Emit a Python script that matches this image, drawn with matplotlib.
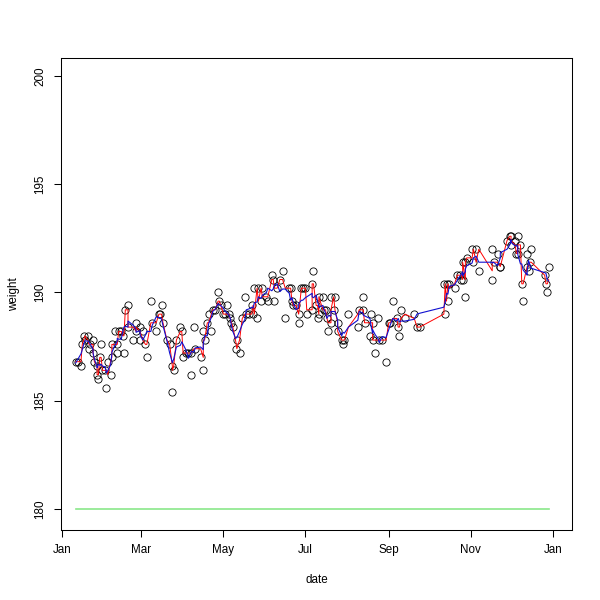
import datetime as dt
import matplotlib
matplotlib.use("Agg")
import matplotlib.pyplot as plt
import matplotlib.dates as mdates
import pandas as pd

# day offsets from 1 Jan 2013 and weights
days = [10, 12, 14, 15, 16, 17, 19, 20, 21, 23, 23, 24, 26, 26, 27, 28, 29, 30, 32, 33,
        34, 36, 37, 37, 39, 41, 41, 42, 44, 45, 46, 47, 49, 49, 53, 55, 55, 58, 58, 60,
        62, 63, 66, 67, 70, 72, 73, 74, 75, 78, 80, 82, 82, 83, 85, 88, 89, 90, 92, 94,
        96, 96, 98, 99, 103, 105, 105, 106, 108, 109, 111, 112, 114, 116, 117, 118, 120, 121, 123, 124,
        125, 126, 127, 129, 130, 132, 134, 136, 137, 139, 141, 142, 143, 145, 146, 148, 149, 152, 153, 156,
        157, 158, 160, 162, 164, 166, 169, 170, 171, 172, 174, 176, 176, 178, 179, 181, 182, 186, 186, 187,
        189, 190, 191, 191, 194, 195, 196, 197, 198, 200, 200, 202, 203, 205, 205, 208, 209, 210, 213, 220,
        221, 224, 224, 225, 229, 230, 231, 231, 233, 235, 236, 238, 241, 243, 244, 246, 249, 250, 251, 252,
        255, 262, 264, 266, 284, 285, 286, 287, 288, 292, 294, 296, 297, 298, 298, 300, 300, 301, 305, 306,
        308, 310, 320, 320, 321, 324, 326, 326, 331, 333, 334, 334, 337, 338, 339, 339, 341, 342, 343, 346,
        346, 347, 348, 349, 359, 360, 361, 362]
weights = [186.8, 186.8, 186.6, 187.6, 188.0, 187.8, 188.0, 187.4, 187.6, 187.8, 187.2, 186.8, 186.6, 186.2, 186.0, 187.0, 187.6, 186.4, 186.4, 185.6,
           186.8, 186.2, 187.0, 187.6, 188.2, 187.2, 187.6, 188.2, 188.2, 188.0, 187.2, 189.2, 189.4, 188.4, 187.8, 188.6, 188.2, 188.4, 187.8, 188.2,
           187.6, 187.0, 189.6, 188.6, 188.2, 189.0, 189.0, 189.4, 188.6, 187.8, 187.6, 185.4, 186.6, 186.4, 187.8, 188.4, 188.2, 187.0, 187.2, 187.2,
           187.2, 186.2, 188.4, 187.4, 187.0, 188.2, 186.4, 187.8, 188.6, 189.0, 188.2, 189.2, 189.2, 190.0, 189.6, 189.4, 189.0, 189.0, 189.4, 189.0,
           188.8, 188.6, 188.4, 187.4, 187.8, 187.2, 188.8, 189.8, 189.0, 189.0, 189.4, 189.0, 190.2, 188.8, 190.2, 189.6, 190.2, 189.8, 189.6, 190.8,
           190.6, 189.6, 190.2, 190.6, 191.0, 188.8, 190.2, 190.2, 189.6, 189.4, 189.4, 189.0, 188.6, 190.2, 190.2, 190.2, 189.0, 189.2, 190.4, 191.0,
           189.4, 188.8, 189.8, 189.0, 189.8, 189.2, 189.2, 188.8, 188.2, 188.6, 189.8, 189.2, 189.8, 188.2, 188.6, 187.8, 187.6, 187.8, 189.0, 188.4,
           189.2, 189.2, 189.8, 188.6, 188.0, 189.0, 188.6, 187.8, 187.2, 188.8, 187.8, 187.8, 186.8, 188.6, 188.6, 189.6, 188.8, 188.4, 188.0, 189.2,
           188.8, 189.0, 188.4, 188.4, 190.4, 189.0, 190.4, 189.6, 190.4, 190.2, 190.8, 190.8, 190.6, 191.4, 190.6, 191.4, 189.8, 191.6, 192.0, 191.4,
           192.0, 191.0, 192.0, 190.6, 191.4, 191.8, 191.2, 191.2, 192.4, 192.6, 192.6, 192.2, 192.4, 191.8, 191.8, 192.6, 192.2, 190.4, 189.6, 191.8,
           191.2, 191.0, 191.4, 192.0, 190.8, 190.4, 190.0, 191.2]
goal = 180

base = dt.datetime(2013, 1, 1)
dates = [base + dt.timedelta(days=d) for d in days]
s = pd.Series(weights, index=pd.DatetimeIndex(dates))
red = s.rolling(3, center=True, min_periods=1).median()
blue = s.rolling(5, center=True, min_periods=1).mean()

plt.rcParams['font.family'] = ['Liberation Sans', 'DejaVu Sans']
fig = plt.figure(figsize=(6, 6), dpi=100)
ax = fig.add_axes([0.102, 0.117, 0.851, 0.786])

ax.plot(s.index, s.values, 'o', mfc='none', mec='black', ms=5.2, mew=0.6)
ax.plot(red.index, red.values, color='red', lw=0.7)
ax.plot(blue.index, blue.values, color='#1010d0', lw=0.8)
ax.plot([dates[0], dates[-1]], [goal, goal], color='#8ae88a', lw=1.2)

ax.set_xlim(base + dt.timedelta(days=-0.7), base + dt.timedelta(days=379.2))
ax.set_ylim(179.03, 200.83)
ax.xaxis.set_major_locator(mdates.MonthLocator(bymonth=[1, 3, 5, 7, 9, 11]))
ax.xaxis.set_major_formatter(mdates.DateFormatter('%b'))
ax.set_yticks([180, 185, 190, 195, 200])
for lab in ax.get_yticklabels():
    lab.set_rotation(90)
    lab.set_va('center')
ax.tick_params(direction='out', length=5, width=0.75, labelsize=8.4, pad=5)
ax.tick_params(axis='y', pad=6)
for sp in ax.spines.values():
    sp.set_linewidth(0.75)
ax.set_xlabel('date', fontsize=8.4, labelpad=13)
ax.set_ylabel('weight', fontsize=8.4, labelpad=10)

fig.savefig('out.png', dpi=100)
